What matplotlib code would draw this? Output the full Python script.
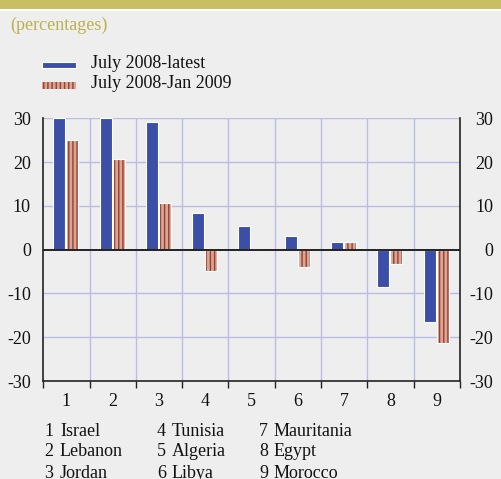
import numpy as np
import matplotlib.pyplot as plt
from matplotlib.patches import Rectangle

plt.rcParams['font.family'] = ['Liberation Serif', 'DejaVu Serif']

# Dane
categories = ['1', '2', '3', '4', '5', '6', '7', '8', '9']
countries = ['Israel', 'Lebanon', 'Jordan', 'Tunisia', 'Algeria', 'Libya',
             'Mauritania', 'Egypt', 'Morocco']
latest = [30.0, 30.0, 29.2, 8.4, 5.3, 3.2, 1.7, -8.6, -16.6]
jan2009 = [25.0, 20.6, 10.6, -4.8, 0.2, -4.0, 1.8, -3.3, -21.4]
labels = ['July 2008-latest', 'July 2008-Jan 2009']
yticks = [-30, -20, -10, 0, 10, 20, 30]

bg = '#eeeeee'
blue = '#3b4fa6'
tan = '#d3a896'
red = '#a33a2c'
grid_col = '#b9bce6'
olive = '#c8bf62'
fs = 13

fig = plt.figure(figsize=(5.01, 4.79), dpi=100, facecolor=bg)
fig.add_artist(Rectangle((0, 1 - 9 / 479), 1, 9 / 479, transform=fig.transFigure,
                         facecolor=olive, edgecolor='none'))
fig.add_artist(Rectangle((0, 1 - 11 / 479), 1, 2 / 479, transform=fig.transFigure,
                         facecolor='white', edgecolor='none'))
fig.text(10 / 501, 1 - 25 / 479, '(percentages)', color='#bdb04f',
         fontsize=fs, va='center', ha='left')

ax = fig.add_axes([43.3 / 501, 1 - 381 / 479, (460 - 43.3) / 501, (381 - 118.3) / 479])
ax.set_facecolor(bg)

x = np.arange(len(categories))
w = 0.26
ax.bar(x - 0.155, latest, w, color=blue, edgecolor='white', linewidth=0.8,
       zorder=3, label=labels[0])
ax.bar(x + 0.125, jan2009, w, color=tan, edgecolor='white', linewidth=0.8, zorder=3)
plt.rcParams['hatch.linewidth'] = 1.0
ax.bar(x + 0.125, jan2009, w, facecolor='none', edgecolor=red, hatch='||||',
       linewidth=0, zorder=4)
ax.bar(x + 0.125, jan2009, w, facecolor='none', edgecolor='white', linewidth=0.8,
       zorder=5)

ax.set_xlim(-0.5, len(categories) - 0.5)
ax.set_ylim(-30, 30)
ax.set_yticks(yticks)
ax.set_yticklabels([str(v) for v in yticks])
ax.set_xticks(x)
ax.set_xticklabels(categories)
ax.set_xticks(np.arange(len(categories) + 1) - 0.5, minor=True)

for v in yticks[1:]:
    if v != 0:
        ax.axhline(v, color=grid_col, lw=1, zorder=1)
for v in np.arange(1, len(categories)) - 0.5:
    ax.axvline(v, color=grid_col, lw=1, zorder=1)
ax.axhline(0, color='#222222', lw=1.4, zorder=6)

ax.tick_params(axis='y', length=0, labelsize=fs, pad=9, colors='#111111')
ax.tick_params(axis='x', which='major', length=0, labelsize=fs, pad=9, colors='#111111')
ax.tick_params(axis='x', which='minor', length=5, width=1, color='#222222')
for s in ['left', 'right', 'bottom']:
    ax.spines[s].set_color('#222222')
    ax.spines[s].set_linewidth(1.2)
ax.spines['top'].set_visible(False)

ax2 = ax.twinx()
ax2.set_ylim(-30, 30)
ax2.set_yticks(yticks)
ax2.set_yticklabels([str(v) for v in yticks])
ax2.tick_params(axis='y', length=0, labelsize=fs, pad=24, colors='#111111')
for s in ax2.spines.values():
    s.set_visible(False)
for t in ax2.get_yticklabels():
    t.set_horizontalalignment('right')

# Legenda
lx0, lx1 = 42 / 501, 76 / 501
fig.add_artist(Rectangle((lx0, 1 - 68 / 479), lx1 - lx0, 6 / 479, transform=fig.transFigure,
                         facecolor=blue, edgecolor='white', lw=0.8))
fig.add_artist(Rectangle((lx0, 1 - 89 / 479), lx1 - lx0, 7 / 479, transform=fig.transFigure,
                         facecolor=tan, edgecolor='none'))
fig.add_artist(Rectangle((lx0, 1 - 89 / 479), lx1 - lx0, 7 / 479, transform=fig.transFigure,
                         facecolor='none', edgecolor=red, hatch='||||', lw=0))
fig.text(91 / 501, 1 - 63 / 479, labels[0], fontsize=fs, va='center', color='#111111')
fig.text(91 / 501, 1 - 84 / 479, labels[1], fontsize=fs, va='center', color='#111111')

# Lista krajów
col_num = [44, 157, 259]
col_name = [60, 172, 274]
rows_y = [431, 452, 473]
for i, name in enumerate(countries):
    c, r = divmod(i, 3)
    fig.text(col_num[c] / 501, 1 - rows_y[r] / 479, categories[i], fontsize=fs,
             va='center', color='#111111')
    fig.text(col_name[c] / 501, 1 - rows_y[r] / 479, name, fontsize=fs,
             va='center', color='#111111')

fig.savefig('out.png', dpi=100, facecolor=bg)
